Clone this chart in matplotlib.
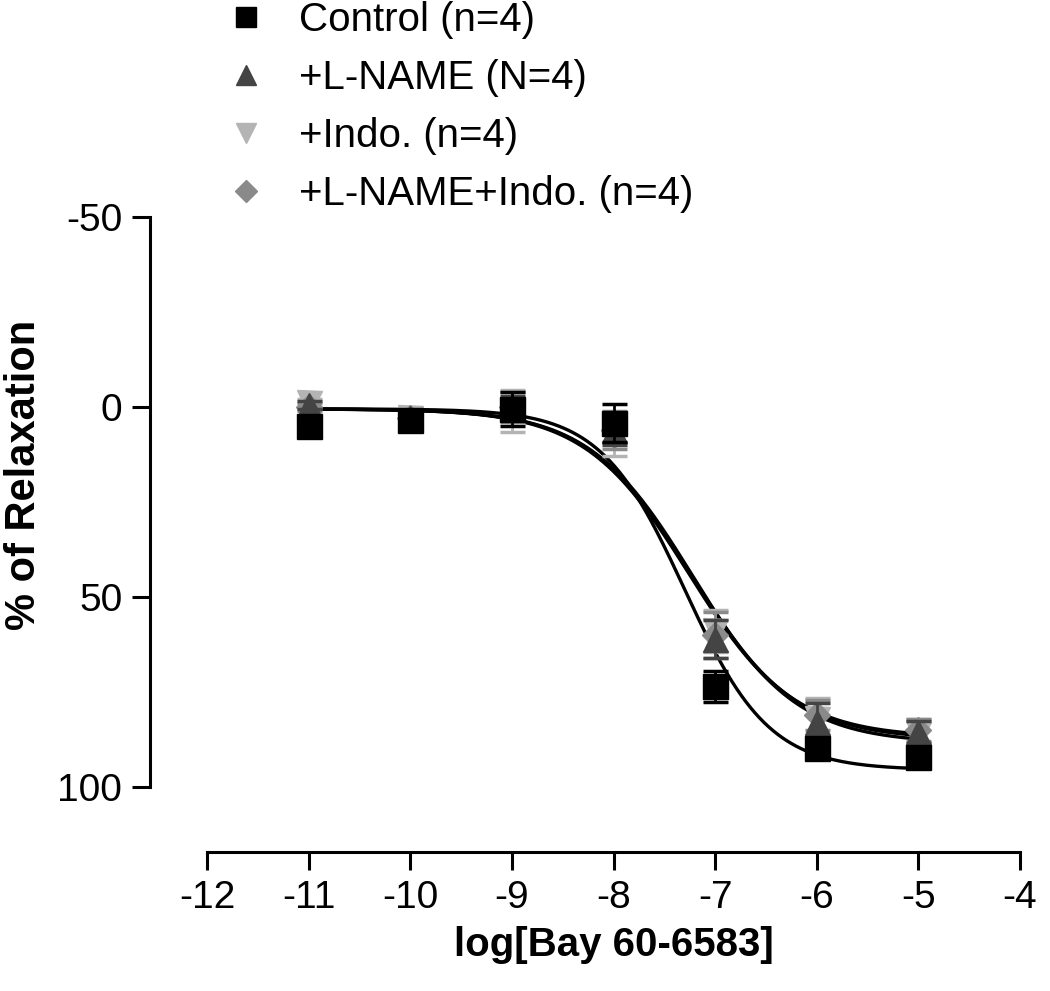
import numpy as np
import matplotlib
matplotlib.use("Agg")
import matplotlib.pyplot as plt
from matplotlib.lines import Line2D

plt.rcParams['font.family'] = ['Liberation Sans', 'DejaVu Sans']
plt.rcParams['axes.unicode_minus'] = False

# ---- data ----
log_conc = [-11, -10, -9, -8, -7, -6, -5]

control_mean = [5.0, 3.4, 0.5, 4.3, 73.5, 89.7, 92.0]
control_sem = [1.5, 1.5, 4.5, 5.0, 4.0, 2.0, 2.0]

lname_mean = [-0.5, 3.0, 0.0, 6.0, 61.0, 83.0, 85.5]
lname_sem = [1.0, 1.0, 3.0, 4.0, 5.0, 5.0, 3.0]

indo_mean = [-1.0, 3.0, 1.0, 8.0, 59.0, 82.0, 86.0]
indo_sem = [1.0, 1.0, 5.5, 5.0, 5.5, 5.5, 4.0]

both_mean = [0.0, 3.0, 0.0, 6.0, 60.0, 81.0, 85.0]
both_sem = [1.0, 1.0, 4.0, 5.0, 6.0, 4.0, 3.0]

labels = ["Control (n=4)", "+L-NAME (N=4)", "+Indo. (n=4)", "+L-NAME+Indo. (n=4)"]

# Fitted sigmoid parameters (bottom, top, logEC50, hill slope)
fit_bottom = [0.5, 0.5, 0.5, 0.5]
fit_top = [95.5, 87.5, 88.5, 87.0]
fit_logec50 = [-7.3, -7.24, -7.22, -7.26]
fit_hill = [1.05, 0.85, 0.85, 0.85]

x_ticks = [-12, -11, -10, -9, -8, -7, -6, -5, -4]
y_ticks = [-50, 0, 50, 100]

# ---- styling ----
colors = ["#000000", "#444444", "#b4b4b4", "#8a8a8a"]
markers = ["s", "^", "v", "D"]
msizes = [18, 18, 18, 13]

fig = plt.figure(figsize=(10.5, 9.91), dpi=100)
ax = fig.add_axes([207/1050, 1-787/991, 813/1050, 570/991])

means = [control_mean, lname_mean, indo_mean, both_mean]
sems = [control_sem, lname_sem, indo_sem, both_sem]

xs = np.linspace(-11, -5, 400)
for i in range(4):
    ys = fit_bottom[i] + (fit_top[i] - fit_bottom[i]) / (1 + 10 ** ((fit_logec50[i] - xs) * fit_hill[i]))
    ax.plot(xs, ys, color='black', lw=2.4, zorder=2)

order = [2, 3, 1, 0]
for i in order:
    ax.errorbar(log_conc, means[i], yerr=sems[i], fmt=markers[i], color=colors[i],
                ms=msizes[i], mec=colors[i], mfc=colors[i], ecolor=colors[i],
                elinewidth=2, capsize=9, capthick=2.5, clip_on=False, zorder=3 + order.index(i))

ax.set_xlim(-12, -4)
ax.set_ylim(100, -50)
ax.set_xticks(x_ticks)
ax.set_yticks(y_ticks)

for s in ['top', 'right']:
    ax.spines[s].set_visible(False)
ax.spines['left'].set_position(('outward', 41))
ax.spines['bottom'].set_position(('outward', 47))
for s in ['left', 'bottom']:
    ax.spines[s].set_linewidth(2.2)
ax.tick_params(axis='both', direction='out', length=13, width=2.2, labelsize=28, pad=7)

ax.set_xlabel("log[Bay 60-6583]", fontsize=29, fontweight='bold')
ax.set_ylabel("% of Relaxation", fontsize=30, fontweight='bold')
ax.xaxis.set_label_coords(0.5, -0.243)
ax.yaxis.set_label_coords(-0.2, 0.547)

handles = [Line2D([], [], marker=markers[i], color=colors[i], ls='none',
                  ms=(14 if i < 3 else 11)) for i in range(4)]
ax.legend(handles, labels, loc='upper left', bbox_to_anchor=(222/1050, 1 - 1/991),
          bbox_transform=fig.transFigure, frameon=False, fontsize=29,
          handlelength=1.2, handletextpad=0.7, labelspacing=0.5,
          borderpad=0, borderaxespad=0)

fig.savefig("out.png", dpi=100)
